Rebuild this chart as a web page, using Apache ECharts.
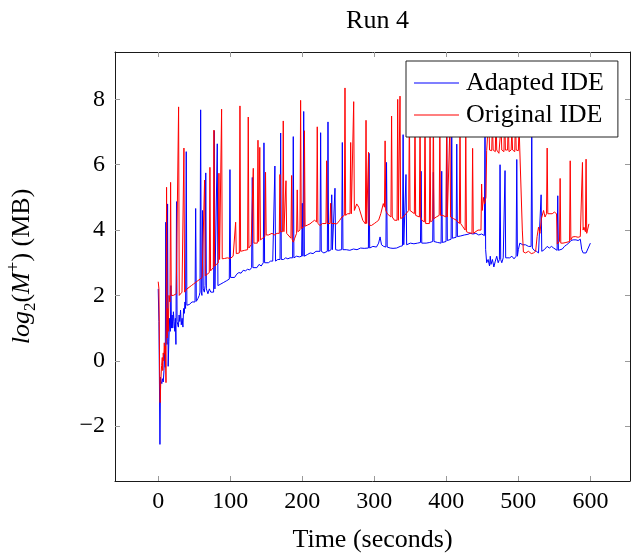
<!DOCTYPE html>
<html>
<head>
<meta charset="utf-8">
<script src="https://cdn.jsdelivr.net/npm/echarts@6/dist/echarts.min.js"></script>
<style>
html,body{margin:0;padding:0;background:#fff;}
#chart{width:631px;height:554px;}
</style>
</head>
<body>
<div id="chart"></div>
<script>
const chartTitle = 'Run 4';
const seriesNames = ['Adapted IDE', 'Original IDE'];
const xTicks = [0, 100, 200, 300, 400, 500, 600];
const yTicks = [-2, 0, 2, 4, 6, 8];

// [time (s), log2(M+) (MB)]
const adaptedIDE = [[0,2.2],[1,1.2],[2.4,-2.56],[3.2,-0.5],[4,-0.63],[5,-0.7],[6,-0.55],[7,-0.65],[8,-0.3],[9,0.3],[9.8,-0.2],[10.5,4.24],[11.3,1.0],[12.2,0.5],[13,4.8],[13.8,-0.17],[14.8,0.6],[15.8,1.3],[16.8,0.9],[17.6,2.3],[18.4,1.0],[19.3,1.4],[20.2,1.0],[21.1,1.5],[22,1.2],[23,0.9],[23.8,1.3],[24.6,0.5],[25.4,4.87],[26.2,1.2],[27.1,1.1],[28,1.03],[29,1.4],[30,1.2],[31,1.55],[32,1.1],[33.2,1.3],[34.3,1.03],[35.2,1.6],[36.2,1.45],[37.1,1.8],[38,1.6],[38.9,6.4],[39.8,1.7],[41,1.75],[43,1.72],[45,1.75],[47,1.8],[49,1.78],[51.1,1.8],[52,4.66],[52.9,1.82],[55,1.9],[57,2.0],[58,2.1],[58.9,7.68],[59.8,2.1],[60.7,2.0],[61.6,4.6],[62.5,2.2],[64,2.1],[65.1,2.3],[66,5.75],[66.9,2.2],[69,2.05],[71,2.2],[73,2.1],[75,2.15],[76.9,2.1],[77.8,7.04],[78.7,2.2],[81.1,2.2],[82,6.64],[82.9,2.3],[85,2.25],[87,2.35],[89,2.3],[91,2.4],[93,2.35],[95,2.45],[97,2.5],[98.7,2.5],[99.6,5.85],[100.5,2.55],[103,2.6],[106,2.55],[109,2.65],[112,2.7],[115,2.68],[118,2.77],[121,2.75],[124,2.8],[127,2.78],[129.7,2.85],[130.6,5.61],[131.5,2.85],[134,2.9],[137,2.85],[140,2.95],[143,2.9],[145.9,3.0],[146.8,6.67],[147.7,3.0],[150,3.05],[153,3.0],[156,3.05],[159,3.05],[161.1,3.1],[162,5.96],[162.9,3.05],[166,3.1],[169.1,3.1],[170,6.97],[170.9,3.1],[174,3.1],[177,3.15],[180,3.12],[183,3.15],[186.6,3.15],[187.5,6.86],[188.4,3.15],[192,3.2],[196,3.18],[199.1,3.2],[200,4.82],[200.9,3.2],[202,7.63],[202.9,3.2],[207,3.25],[211,3.3],[215,3.28],[219,3.35],[224.6,3.35],[225.5,6.98],[226.4,3.35],[230,3.3],[234.8,3.35],[235.7,7.31],[236.6,3.35],[240,3.4],[240.9,5.08],[241.8,3.4],[244.5,3.4],[245.4,5.28],[246.3,3.4],[250,3.38],[254.7,3.4],[255.6,6.68],[256.5,3.4],[261,3.4],[266,3.38],[271,3.42],[276,3.4],[281,3.45],[286,3.44],[291.8,3.45],[292.7,6.35],[293.6,3.45],[298,3.5],[303,3.48],[306,3.6],[308,3.79],[310,3.55],[313,3.5],[316.1,3.48],[317,6.07],[317.9,3.48],[322,3.45],[326,3.44],[331,3.45],[336,3.5],[339.1,3.52],[340,6.92],[340.9,3.55],[343.1,3.5],[344,5.7],[344.9,3.55],[350,3.6],[355,3.58],[360,3.6],[364.1,3.62],[365,5.8],[365.9,3.6],[372,3.6],[377,3.62],[381.1,3.65],[382,5.77],[382.9,3.65],[388,3.62],[392.7,3.6],[393.6,5.8],[394.5,3.62],[399.6,3.65],[400.5,7.2],[401.4,3.68],[403,3.7],[406.6,3.72],[407.5,7.4],[408.4,3.75],[411,3.8],[413.6,3.78],[414.5,6.63],[415.4,3.8],[420,3.82],[425,3.85],[430,3.87],[433,3.9],[437,3.88],[441,3.9],[445,3.85],[449,3.88],[452.8,3.83],[453.7,7.3],[454.6,3.4],[456,3.0],[458,3.1],[460,2.9],[461,3.2],[462,2.95],[464,3.1],[466,2.87],[468,3.05],[470,3.2],[472,3.0],[473.7,3.1],[474.6,6.0],[475.5,3.1],[477,3.0],[479,3.15],[480.6,3.1],[481.5,5.82],[482.4,3.15],[485,3.2],[488,3.15],[491,3.2],[494,3.12],[496.9,3.2],[497.8,6.16],[498.7,3.2],[500,3.4],[502,3.6],[506,3.55],[510,3.55],[514,3.5],[517.7,3.5],[518.6,7.0],[519.5,3.45],[522,3.38],[525,3.35],[528,3.3],[530.7,3.32],[531.6,5.08],[532.5,3.35],[536,3.4],[540,3.5],[543,3.45],[546,3.5],[549,3.45],[551,3.4],[553.8,3.38],[554.7,5.05],[555.6,3.38],[558,3.4],[561,3.42],[564,3.5],[567,3.55],[570,3.6],[573,3.68],[576,3.7],[580,3.7],[583,3.68],[586,3.72],[588,3.4],[590,3.3],[592,3.28],[594,3.3],[597,3.45],[600,3.6]];

const originalIDE = [[0,2.42],[1,2.2],[2,-0.4],[2.7,-1.28],[3.6,-0.6],[4.7,-0.15],[5.6,0.1],[6.3,-0.3],[7,0.24],[7.7,0.0],[8.4,0.55],[9.2,0.2],[10,0.45],[10.8,-0.67],[11.6,5.31],[12.4,0.7],[13.2,1.6],[14,0.9],[15,2.0],[16.3,1.8],[17.2,5.46],[18.1,2.0],[19.5,1.95],[21,2.0],[23,1.98],[25,2.05],[27.4,2.0],[28.3,7.77],[29.2,2.0],[31,2.05],[33,2.1],[34.8,2.1],[35.7,6.51],[36.6,2.1],[38,2.15],[40,2.2],[43,2.25],[46,2.3],[49,2.35],[52,2.4],[55,2.45],[58,2.5],[61,2.55],[63.5,2.6],[64.4,5.53],[65.3,2.6],[68,2.65],[70.9,2.7],[71.8,5.92],[72.7,2.75],[74.5,2.8],[76.5,2.85],[77.4,7.06],[78.3,2.9],[80.5,2.95],[83.4,3.0],[84.3,5.74],[85.2,3.1],[87.1,3.1],[88,7.7],[88.9,3.12],[92,3.13],[96,3.15],[100,3.13],[104,3.2],[106.6,3.25],[107.5,4.24],[108.4,3.28],[110.5,3.3],[112.6,3.3],[113.5,7.8],[114.4,3.35],[117,3.35],[120,3.38],[124.1,3.4],[125,7.46],[125.9,3.45],[129,3.55],[131.1,3.6],[132,5.89],[132.9,3.6],[135,3.6],[137.6,3.6],[138.5,6.75],[139.4,3.65],[140.1,3.7],[141,6.53],[141.9,3.7],[145,3.75],[148.1,3.8],[149,5.77],[149.9,3.85],[153,3.85],[155,3.89],[158,3.9],[161,3.85],[165,3.9],[168.1,3.9],[169,5.7],[169.9,3.95],[172.7,3.95],[173.6,7.34],[174.5,3.95],[176.5,3.95],[177.4,5.51],[178.3,3.9],[181,3.85],[184.3,3.75],[185.2,5.67],[186.1,3.7],[187.5,3.63],[189.5,3.75],[192.1,3.9],[193,5.23],[193.9,3.95],[196.8,4.0],[197.7,7.97],[198.6,4.05],[200.5,4.1],[202.1,4.1],[203,7.04],[203.9,4.12],[207,4.15],[210.7,4.19],[214,4.25],[217,4.3],[219.9,4.25],[220.8,7.16],[221.7,4.2],[224.6,4.14],[228,4.2],[232.9,4.2],[233.8,6.12],[234.7,4.2],[238.5,4.2],[239.4,4.82],[240.3,4.2],[244,4.2],[248,4.19],[252,4.3],[255,4.4],[258.4,4.45],[259.3,8.35],[260.2,4.45],[263,4.5],[266.3,4.5],[267.2,6.68],[268.1,4.5],[270.5,4.55],[271.4,7.93],[272.3,4.6],[275.6,4.8],[278.5,4.7],[281,4.65],[284,4.3],[287.6,4.19],[288.5,7.36],[289.4,4.2],[291.1,4.2],[292,6.38],[292.9,4.15],[296,4.14],[300,4.2],[303,4.25],[306,4.3],[309,4.5],[312.5,4.81],[314.1,4.7],[315,6.73],[315.9,4.6],[318,4.5],[323.1,4.4],[324,7.49],[324.9,4.4],[328,4.3],[331.6,4.3],[332.5,8.0],[333.4,4.3],[334.8,4.3],[335.7,8.1],[336.6,4.35],[340,4.4],[344,4.5],[347.8,4.6],[348.7,7.8],[349.6,4.6],[351,4.55],[355.6,4.5],[356.5,7.6],[357.4,4.45],[362.6,4.4],[363.5,7.5],[364.4,4.4],[366,4.3],[369.5,4.25],[370.4,7.9],[371.3,4.2],[373,4.14],[376.5,4.2],[377.4,7.4],[378.3,4.25],[381.1,4.3],[382,7.7],[382.9,4.35],[386,4.4],[390.1,4.45],[391,7.3],[391.9,4.45],[395,4.45],[399.6,4.4],[400.5,7.6],[401.4,4.4],[404.1,4.4],[405,7.2],[405.9,4.4],[410,4.35],[414,4.3],[418.1,4.2],[419,7.5],[419.9,4.2],[423,4.1],[426.1,4.0],[427,7.0],[427.9,3.95],[431,3.92],[435.6,3.9],[436.5,6.5],[437.4,3.9],[440,3.95],[444,4.0],[448.1,4.0],[449,5.41],[449.9,4.6],[451.5,5.0],[453,4.8],[455,5.0],[456,6.43],[458,6.45],[459,7.5],[460,6.45],[463,6.43],[464,7.3],[465,6.45],[468,6.4],[469,7.6],[470,6.45],[473,6.35],[475,6.4],[476,7.2],[477,6.45],[480,6.4],[481,7.8],[482,6.45],[485,6.45],[486,7.4],[487,6.4],[490,6.45],[491,7.1],[492,6.45],[495,6.4],[496,7.5],[497,6.45],[500,6.43],[501,7.2],[502,6.45],[504,6.45],[505.5,4.0],[507,3.33],[510,3.3],[514,3.35],[518,3.28],[521,3.3],[524,3.35],[526,3.8],[528,4.09],[530,3.9],[532,4.35],[535,4.6],[537,4.4],[539.1,4.5],[540,6.51],[540.9,4.5],[543,4.5],[547,4.5],[550,4.55],[553,4.5],[554,3.57],[556,3.6],[557.1,3.65],[558,5.58],[558.9,3.6],[562,3.6],[566,3.62],[571.1,3.65],[572,6.12],[572.9,3.7],[575,3.79],[579,3.8],[583,3.78],[586,3.8],[588.1,3.85],[589,6.07],[589.9,4.0],[591,4.09],[593.1,3.95],[594,6.17],[594.9,3.9],[596,4.0],[598,4.19]];

const FONT = '"Liberation Serif", "Times New Roman", serif';
const minusFmt = v => String(v).replace('-', '\u2212');

const chart = echarts.init(document.getElementById('chart'), null, {renderer: 'canvas'});

const baseX = {
  type: 'value', min: -60, max: 655,
  splitLine: {show: false},
  axisLine: {show: true, onZero: false, lineStyle: {color: '#1a1a1a', width: 1}},
  axisTick: {show: true, inside: true, length: 5, customValues: xTicks, lineStyle: {color: '#9a9a9a', width: 1}},
  axisLabel: {show: true, customValues: xTicks, margin: 9, fontFamily: FONT, fontSize: 24, color: '#000', formatter: minusFmt}
};
const baseY = {
  type: 'value', min: -3.68, max: 9.45,
  splitLine: {show: false},
  axisLine: {show: true, onZero: false, lineStyle: {color: '#1a1a1a', width: 1}},
  axisTick: {show: true, inside: true, length: 5, customValues: yTicks, lineStyle: {color: '#9a9a9a', width: 1}},
  axisLabel: {show: true, customValues: yTicks, margin: 10, fontFamily: FONT, fontSize: 24, color: '#000', formatter: minusFmt}
};

const option = {
  animation: false,
  backgroundColor: '#fff',
  title: {
    text: chartTitle, left: 372.5, top: 3, textAlign: 'center',
    textStyle: {fontFamily: FONT, fontSize: 26, fontWeight: 'normal', color: '#000'}
  },
  grid: {left: 115, top: 52, right: 1, bottom: 73, containLabel: false, outerBoundsMode: 'none'},
  legend: {
    data: seriesNames,
    orient: 'vertical',
    left: 406, top: 61,
    padding: [9, 14, 9, 8],
    itemGap: 6,
    itemWidth: 45, itemHeight: 1,
    icon: 'rect',
    backgroundColor: '#fff',
    borderColor: '#222', borderWidth: 1,
    textStyle: {fontFamily: FONT, fontSize: 26, color: '#000', padding: [0, 0, 0, 2]}
  },
  xAxis: [
    Object.assign({}, baseX, {
      position: 'bottom',
      name: 'Time (seconds)', nameLocation: 'middle', nameGap: 46,
      nameTextStyle: {fontFamily: FONT, fontSize: 26, color: '#000'}
    }),
    Object.assign({}, baseX, {position: 'top', axisLabel: Object.assign({}, baseX.axisLabel, {show: false})})
  ],
  yAxis: [
    Object.assign({}, baseY, {
      position: 'left',
      name: '{i|log}{s|2}{n|(}{i|M}{p|+}{n|) (MB)}',
      nameLocation: 'middle', nameGap: 76,
      nameTextStyle: {
        fontFamily: FONT, fontSize: 26, color: '#000', lineHeight: 34,
        rich: {
          i: {fontFamily: FONT, fontSize: 26, fontStyle: 'italic', color: '#000', lineHeight: 34},
          n: {fontFamily: FONT, fontSize: 26, color: '#000', lineHeight: 34},
          s: {fontFamily: FONT, fontSize: 17, color: '#000', lineHeight: 17, verticalAlign: 'bottom'},
          p: {fontFamily: FONT, fontSize: 19, color: '#000', lineHeight: 19, verticalAlign: 'top'}
        }
      }
    }),
    Object.assign({}, baseY, {position: 'right', axisLabel: Object.assign({}, baseY.axisLabel, {show: false})})
  ],
  series: [
    {
      name: seriesNames[0], type: 'line', data: adaptedIDE,
      xAxisIndex: 0, yAxisIndex: 0,
      symbol: 'none', showSymbol: false,
      lineStyle: {color: '#0000ff', width: 1},
      itemStyle: {color: '#0000ff'},
      z: 2
    },
    {
      name: seriesNames[1], type: 'line', data: originalIDE,
      xAxisIndex: 0, yAxisIndex: 0,
      symbol: 'none', showSymbol: false,
      lineStyle: {color: '#ff0000', width: 1},
      itemStyle: {color: '#ff0000'},
      z: 3
    }
  ]
};
chart.setOption(option);
</script>
</body>
</html>
